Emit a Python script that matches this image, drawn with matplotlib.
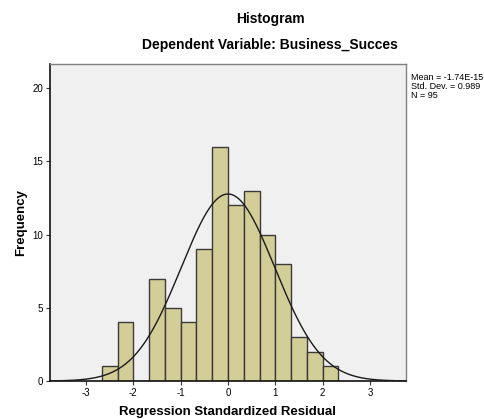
import numpy as np
import matplotlib
matplotlib.use("Agg")
import matplotlib.pyplot as plt

# histogram of residuals, bins of width 1/3
bin_edges = np.arange(-8, 8) / 3.0
counts = [1, 4, 0, 7, 5, 4, 9, 16, 12, 13, 10, 8, 3, 2, 1]
bin_lefts = bin_edges[:len(counts)]
bin_width = 1.0 / 3.0

mean_val = -1.74e-15
std_val = 0.989
n_obs = 95

x_ticks = [-3, -2, -1, 0, 1, 2, 3]
y_ticks = [0, 5, 10, 15, 20]

plt.rcParams['font.family'] = ['Liberation Sans', 'DejaVu Sans']
plt.rcParams['axes.unicode_minus'] = False

fig = plt.figure(figsize=(4.85, 4.19), dpi=100)
ax = fig.add_axes([50/485, 1 - 381/419, 356/485, 317/419])
ax.set_facecolor('#F0F0F0')

ax.bar(bin_lefts, counts, width=bin_width, align='edge',
	color='#D3CE97', edgecolor='#3A3A3A', linewidth=1.0, zorder=2)

# normal curve scaled to counts
xs = np.linspace(-3.76, 3.76, 400)
ys = n_obs * bin_width / (std_val * np.sqrt(2 * np.pi)) * np.exp(-0.5 * ((xs - mean_val) / std_val) ** 2)
ax.plot(xs, ys, color='#1A1A1A', linewidth=1.0, zorder=3)

ax.set_xlim(-3.76, 3.76)
ax.set_ylim(0, 21.65)
ax.set_xticks(x_ticks)
ax.set_yticks(y_ticks)
ax.tick_params(labelsize=7, length=3, width=0.8, color='#333333', pad=2)

for s in ['left', 'bottom']:
	ax.spines[s].set_color('#111111')
	ax.spines[s].set_linewidth(1.2)
for s in ['top', 'right']:
	ax.spines[s].set_color('#808080')
	ax.spines[s].set_linewidth(1.0)

ax.set_xlabel('Regression Standardized Residual', fontsize=9.5, fontweight='bold', labelpad=6)
ax.set_ylabel('Frequency', fontsize=9.5, fontweight='bold', labelpad=4)

fig.text(270/485, 1 - 19/419, 'Histogram', ha='center', va='center', fontsize=10, fontweight='bold')
fig.text(270/485, 1 - 45/419, 'Dependent Variable: Business_Succes', ha='center', va='center', fontsize=10, fontweight='bold')

fig.text(411/485, 1 - 73/419, 'Mean = -1.74E-15\nStd. Dev. = 0.989\nN = {0}'.format(n_obs),
	ha='left', va='top', fontsize=6.5, linespacing=1.0)

fig.savefig('out.png', dpi=100)
